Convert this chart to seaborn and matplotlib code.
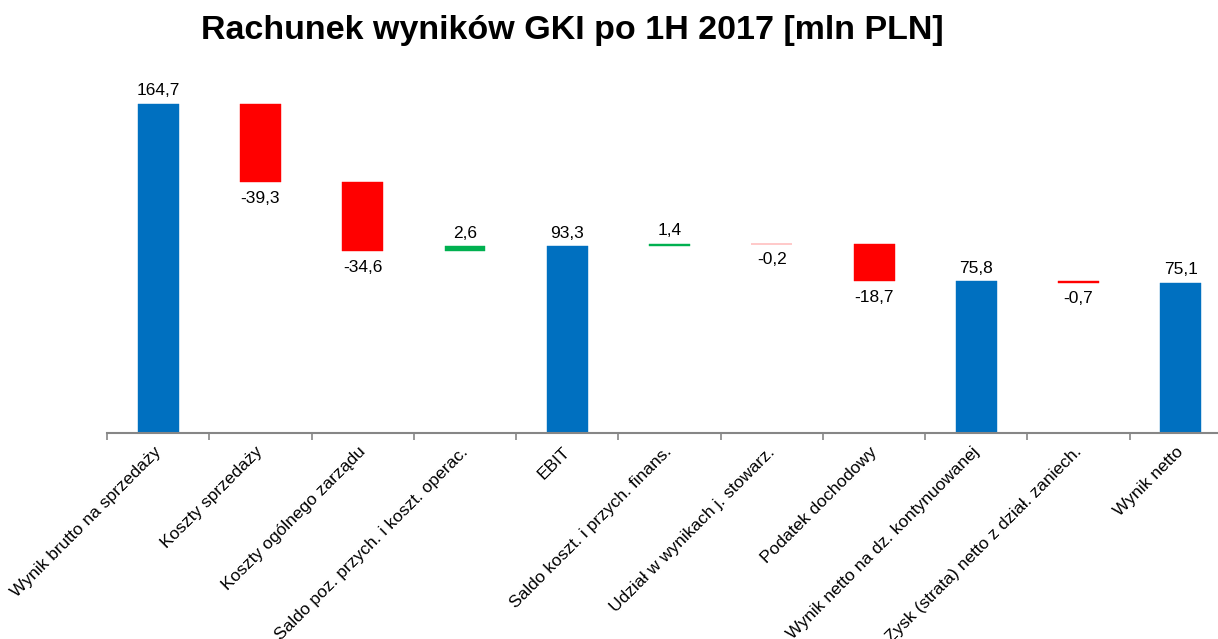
import numpy as np
import pandas as pd
import matplotlib
matplotlib.use("Agg")
import matplotlib.pyplot as plt
from matplotlib.transforms import ScaledTranslation
import seaborn as sns

# dane wykresu (mln PLN)
kategorie = [
    "Wynik brutto na sprzedaży",
    "Koszty sprzedaży",
    "Koszty ogólnego zarządu",
    "Saldo poz. przych. i koszt. operac.",
    "EBIT",
    "Saldo koszt. i przych. finans.",
    "Udział w wynikach j. stowarz.",
    "Podatek dochodowy",
    "Wynik netto na dz. kontynuowanej",
    "Zysk (strata) netto z dział. zaniech.",
    "Wynik netto",
]
wartosci = [164.7, -39.3, -34.6, 2.6, 93.3, 1.4, -0.2, -18.7, 75.8, -0.7, 75.1]
czy_suma = [True, False, False, False, True, False, False, False, True, False, True]

NIEBIESKI = "#0070C0"
CZERWONY = "#FF0000"
ZIELONY = "#00B050"

# podstawy i wysokosci slupkow wodospadu
dol, wys, kolory = [], [], []
biezacy = 0.0
for v, s in zip(wartosci, czy_suma):
    if s:
        dol.append(0.0)
        wys.append(v)
        kolory.append(NIEBIESKI)
        biezacy = v
    else:
        if v >= 0:
            dol.append(biezacy)
            kolory.append(ZIELONY)
        else:
            dol.append(biezacy + v)
            kolory.append(CZERWONY)
        wys.append(abs(v))
        biezacy += v

df = pd.DataFrame({"kategoria": kategorie, "wys": wys, "dol": dol})

sns.set_style("white")
plt.rcParams["font.family"] = ["Liberation Sans", "DejaVu Sans"]
plt.rcParams["text.color"] = "black"
plt.rcParams["xtick.labelcolor"] = "black"

fig = plt.figure(figsize=(12.18, 6.39), dpi=100)
ax = fig.add_axes([107 / 1218, 1 - 433 / 639, 1125 / 1218, 353 / 639])

sns.barplot(data=df, x="kategoria", y="wys", order=kategorie, bottom=np.array(dol),
            width=0.4, ax=ax, errorbar=None, color=NIEBIESKI, linewidth=0)
for p, c in zip(ax.patches, kolory):
    p.set_facecolor(c)
    p.set_edgecolor(c)
    p.set_linewidth(0.3)

# etykiety wartosci
for i, (v, s) in enumerate(zip(wartosci, czy_suma)):
    tekst = f"{v:.1f}".replace(".", ",")
    if v >= 0:
        y = dol[i] + wys[i]
        ax.annotate(tekst, (i, y), xytext=(0, 4), textcoords="offset points",
                    ha="center", va="bottom", fontsize=12.5, color="black")
    else:
        y = dol[i]
        ax.annotate(tekst, (i, y), xytext=(0, -6), textcoords="offset points",
                    ha="center", va="top", fontsize=12.5, color="black")

ax.set_xlim(-0.5, len(kategorie) - 0.5)
ax.set_ylim(0, 176.5)
ax.set_xlabel("")
ax.set_ylabel("")
ax.set_yticks([])
ax.set_xticks(range(len(kategorie)))
ax.set_xticklabels(kategorie, rotation=45, ha="right", rotation_mode="anchor", fontsize=12.5)
ax.set_xticks(np.arange(-0.5, len(kategorie)), minor=True)
ax.tick_params(axis="x", which="major", length=0, pad=8)
ax.tick_params(axis="x", which="minor", bottom=True, length=5, width=1.2,
               color="#868686", direction="out")
przesun = ScaledTranslation(-5 / 100, 0, fig.dpi_scale_trans)
for lbl in ax.get_xticklabels():
    lbl.set_transform(lbl.get_transform() + przesun)
for sp in ["top", "left", "right"]:
    ax.spines[sp].set_visible(False)
ax.spines["bottom"].set_color("#868686")
ax.spines["bottom"].set_linewidth(1.5)

fig.text(572 / 1218, 1 - 31 / 639, "Rachunek wyników GKI po 1H 2017 [mln PLN]",
         ha="center", va="center", fontsize=24.5, fontweight="bold", color="black")

fig.savefig("out.png", dpi=100)
